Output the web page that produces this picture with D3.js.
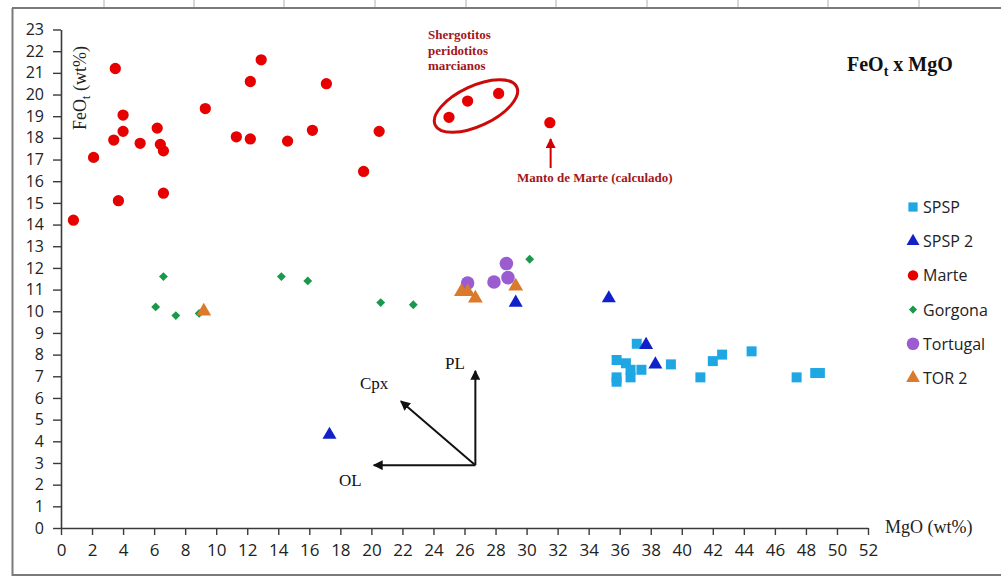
<!DOCTYPE html>
<html>
<head>
<meta charset="utf-8">
<script src="https://cdn.jsdelivr.net/npm/d3@7"></script>
<style>
  html, body { margin: 0; padding: 0; background: #fff; }
  svg { display: block; }
</style>
</head>
<body>
<svg id="chart" width="1001" height="577"></svg>
<script>
// ---- Data (MgO wt%, FeOt wt%) ----
const xTicks = d3.range(0, 53, 2);
const yTicks = d3.range(0, 24, 1);

const spspX = [37.1, 35.8, 36.4, 36.7, 37.4, 36.7, 35.8, 35.8, 39.3, 41.2, 42.0, 42.6, 44.5, 47.4, 48.6, 48.9];
const spspY = [8.5, 7.75, 7.6, 7.3, 7.3, 6.95, 6.95, 6.75, 7.55, 6.95, 7.7, 8.0, 8.15, 6.95, 7.15, 7.15];

const spsp2X = [17.3, 29.3, 35.3, 37.7, 38.3];
const spsp2Y = [4.3, 10.4, 10.6, 8.45, 7.55];

const marteX = [0.8, 2.1, 3.5, 4.0, 4.0, 3.4, 3.7, 5.1, 6.2, 6.4, 6.6, 6.6, 9.3, 11.3, 12.2, 12.2, 12.9, 14.6, 16.2, 17.1, 19.5, 20.5, 25.0, 26.2, 28.2, 31.5];
const marteY = [14.2, 17.1, 21.2, 19.05, 18.3, 17.9, 15.1, 17.75, 18.45, 17.7, 17.4, 15.45, 19.35, 18.05, 17.95, 20.6, 21.6, 17.85, 18.35, 20.5, 16.45, 18.3, 18.95, 19.7, 20.05, 18.7];

const gorgonaX = [6.1, 6.6, 7.4, 8.9, 14.2, 15.9, 20.6, 22.7, 30.2];
const gorgonaY = [10.2, 11.6, 9.8, 9.9, 11.6, 11.4, 10.4, 10.3, 12.4];

const tortugalX = [26.2, 27.9, 28.7, 28.8];
const tortugalY = [11.3, 11.35, 12.2, 11.55];

const tor2X = [9.2, 25.8, 26.2, 26.7, 29.3];
const tor2Y = [10.0, 10.9, 10.9, 10.6, 11.15];

const seriesNames = ["SPSP", "SPSP 2", "Marte", "Gorgona", "Tortugal", "TOR 2"];

// ---- Setup ----
const svg = d3.select("#chart");
const x = d3.scaleLinear().domain([0, 52]).range([61, 868]);
const y = d3.scaleLinear().domain([0, 23]).range([528, 29.5]);

const zip = (xs, ys) => xs.map((v, i) => ({ x: v, y: ys[i] }));

const styles = {
  "SPSP":     { color: "#1fa7e4", shape: d3.symbolSquare,   size: 100 },
  "SPSP 2":   { color: "#1121c9", shape: d3.symbolTriangle, size: 85 },
  "Marte":    { color: "#e60000", shape: d3.symbolCircle,   size: 100 },
  "Gorgona":  { color: "#19994a", shape: d3.symbolDiamond2 || d3.symbolDiamond, size: 50 },
  "Tortugal": { color: "#9b5cd2", shape: d3.symbolCircle,   size: 145 },
  "TOR 2":    { color: "#dc7a2c", shape: d3.symbolTriangle, size: 95 }
};

const seriesData = {
  "SPSP": zip(spspX, spspY),
  "SPSP 2": zip(spsp2X, spsp2Y),
  "Marte": zip(marteX, marteY),
  "Gorgona": zip(gorgonaX, gorgonaY),
  "Tortugal": zip(tortugalX, tortugalY),
  "TOR 2": zip(tor2X, tor2Y)
};

// ---- Frame (spreadsheet-like border) ----
const frame = svg.append("g");
frame.append("line").attr("x1", 12).attr("x2", 1001).attr("y1", 8).attr("y2", 8).attr("stroke", "#7a7a7a").attr("stroke-width", 2);
frame.append("line").attr("x1", 12).attr("x2", 1001).attr("y1", 575).attr("y2", 575).attr("stroke", "#7a7a7a").attr("stroke-width", 2);
frame.append("line").attr("x1", 12.5).attr("x2", 12.5).attr("y1", 8).attr("y2", 576).attr("stroke", "#7a7a7a").attr("stroke-width", 2);
[104, 194, 284, 375, 466, 556, 647, 738, 828, 919].forEach(cx => {
  frame.append("line").attr("x1", cx).attr("x2", cx).attr("y1", 0).attr("y2", 7).attr("stroke", "#b0b0b0").attr("stroke-width", 1);
});

// ---- Axes ----
const axisColor = "#3a3a3a";
const yAxis = svg.append("g").attr("transform", `translate(${x(0)},0)`)
  .call(d3.axisLeft(y).tickValues(yTicks).tickSize(8).tickSizeOuter(0).tickPadding(9));
const xAxis = svg.append("g").attr("transform", `translate(0,${y(0)})`)
  .call(d3.axisBottom(x).tickValues(xTicks).tickSize(7).tickSizeOuter(0).tickPadding(9));
[xAxis, yAxis].forEach(g => {
  g.select(".domain").attr("stroke", axisColor).attr("stroke-width", 1.6);
  g.selectAll(".tick line").attr("stroke", axisColor).attr("stroke-width", 1.4);
  g.selectAll(".tick text").attr("font-family", "'Open Sans', sans-serif").attr("font-size", 16).attr("fill", "#222");
});
xAxis.selectAll(".tick text").attr("font-size", 17);

// Axis titles
const yTitle = svg.append("text")
  .attr("transform", `translate(86,88) rotate(-90)`)
  .attr("text-anchor", "middle")
  .attr("font-family", "'Liberation Serif', 'Times New Roman', serif")
  .attr("font-size", 18).attr("fill", "#222");
yTitle.append("tspan").text("FeO");
yTitle.append("tspan").attr("font-size", 12).attr("dy", 4).text("t");
yTitle.append("tspan").attr("dy", -4).text(" (wt%)");

svg.append("text")
  .attr("x", 885).attr("y", 533)
  .attr("font-family", "'Liberation Serif', 'Times New Roman', serif")
  .attr("font-size", 18).attr("fill", "#222")
  .text("MgO (wt%)");

// Title
const title = svg.append("text")
  .attr("x", 847).attr("y", 71)
  .attr("font-family", "'Liberation Serif', 'Times New Roman', serif")
  .attr("font-weight", "bold").attr("font-size", 20).attr("fill", "#111");
title.append("tspan").text("FeO");
title.append("tspan").attr("font-size", 14).attr("dy", 5).text("t");
title.append("tspan").attr("dy", -5).text(" x MgO");

// ---- Annotations ----
const defs = svg.append("defs");
defs.append("marker").attr("id", "arrowBlack").attr("viewBox", "0 0 10 10")
  .attr("refX", 9).attr("refY", 5).attr("markerWidth", 5).attr("markerHeight", 5)
  .attr("orient", "auto").attr("markerUnits", "strokeWidth")
  .append("path").attr("d", "M0,0 L10,5 L0,10 z").attr("fill", "#111");
defs.append("marker").attr("id", "arrowRed").attr("viewBox", "0 0 10 10")
  .attr("refX", 9).attr("refY", 5).attr("markerWidth", 5).attr("markerHeight", 5)
  .attr("orient", "auto").attr("markerUnits", "strokeWidth")
  .append("path").attr("d", "M0,0 L10,5 L0,10 z").attr("fill", "#d00000");

// Mineral vectors
const origin = { x: 26.7, y: 2.9 };
const vectors = [
  { label: "PL", tx: 26.7, ty: 7.25, lx: 445, ly: 369 },
  { label: "OL", tx: 20.15, ty: 2.9, lx: 339, ly: 486 },
  { label: "Cpx", tx: 21.9, ty: 5.85, lx: 360, ly: 389 }
];
const vg = svg.append("g");
vectors.forEach(v => {
  vg.append("line")
    .attr("x1", x(origin.x)).attr("y1", y(origin.y))
    .attr("x2", x(v.tx)).attr("y2", y(v.ty))
    .attr("stroke", "#111").attr("stroke-width", 2)
    .attr("marker-end", "url(#arrowBlack)");
  vg.append("text").attr("x", v.lx).attr("y", v.ly)
    .attr("font-family", "'Liberation Serif', 'Times New Roman', serif")
    .attr("font-size", 17).attr("fill", "#111").text(v.label);
});

// Shergotitos ellipse + labels
const annColor = "#a3161a";
svg.append("ellipse")
  .attr("cx", x(26.74)).attr("cy", y(19.47))
  .attr("rx", 45).attr("ry", 20)
  .attr("transform", `rotate(-25,${x(26.74)},${y(19.47)})`)
  .attr("fill", "none").attr("stroke", "#cc0a0a").attr("stroke-width", 3);

const sherg = svg.append("text")
  .attr("font-family", "'Liberation Serif', 'Times New Roman', serif")
  .attr("font-weight", "bold").attr("font-size", 13).attr("fill", annColor);
["Shergotitos", "peridotitos", "marcianos"].forEach((t, i) => {
  sherg.append("tspan").attr("x", 428).attr("y", 39 + i * 15.5).text(t);
});

// Manto arrow
svg.append("line")
  .attr("x1", x(31.55)).attr("y1", 168).attr("x2", x(31.55)).attr("y2", 139)
  .attr("stroke", "#d00000").attr("stroke-width", 2)
  .attr("marker-end", "url(#arrowRed)");
svg.append("text").attr("x", 517).attr("y", 182)
  .attr("font-family", "'Liberation Serif', 'Times New Roman', serif")
  .attr("font-weight", "bold").attr("font-size", 13).attr("fill", annColor)
  .text("Manto de Marte (calculado)");

// ---- Points ----
const drawOrder = ["Gorgona", "SPSP", "Marte", "Tortugal", "TOR 2", "SPSP 2"];
drawOrder.forEach(name => {
  const st = styles[name];
  const sym = d3.symbol().type(st.shape).size(st.size);
  svg.append("g").selectAll("path").data(seriesData[name]).join("path")
    .attr("d", sym)
    .attr("transform", d => `translate(${x(d.x)},${y(d.y)})`)
    .attr("fill", st.color);
});

// ---- Legend ----
const legend = svg.append("g").attr("transform", "translate(913,207)");
seriesNames.forEach((name, i) => {
  const st = styles[name];
  const row = legend.append("g").attr("transform", `translate(0,${i * 34.2})`);
  row.append("path").attr("d", d3.symbol().type(st.shape).size(st.size * 0.85)).attr("fill", st.color);
  row.append("text").attr("x", 10).attr("y", 6)
    .attr("font-family", "'Open Sans', sans-serif").attr("font-size", 16).attr("fill", "#222")
    .text(name);
});
</script>
</body>
</html>
